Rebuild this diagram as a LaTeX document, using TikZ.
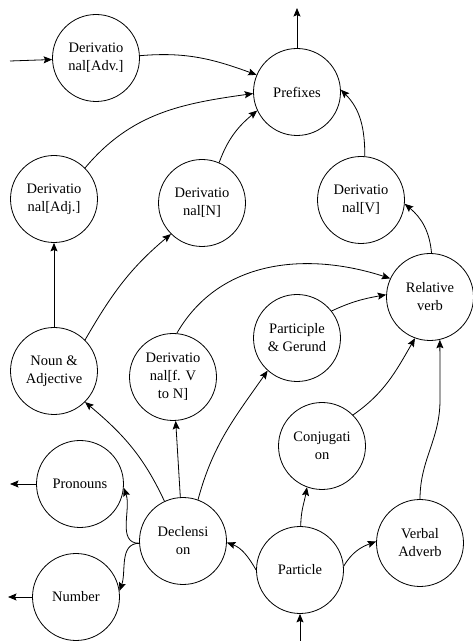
\documentclass[tikz,border=0pt]{standalone}
\usepackage{fontspec}
\setmainfont{Liberation Serif}
\usetikzlibrary{arrows.meta}
\begin{document}
\begin{tikzpicture}[x=1pt,y=1pt,
  state/.style={circle,draw,line width=0.8pt,minimum size=87pt,inner sep=0pt,
    align=center,font=\fontsize{14.5}{18}\selectfont},
  arr/.style={line width=0.8pt,-{Stealth[length=8.5pt,width=7pt,inset=1.5pt]}}]
\fill[white] (0,0) rectangle (473,641);
\useasboundingbox (0,0) rectangle (473,641);

% states
\node[state] (adv)  at (96,583)  {Derivatio\\nal[Adv.]};
\node[state] (pre)  at (297,549) {Prefixes};
\node[state] (adj)  at (54,442)  {Derivatio\\nal[Adj.]};
\node[state] (nn)   at (202,438) {Derivatio\\nal[N]};
\node[state] (vv)   at (361,441) {Derivatio\\nal[V]};
\node[state] (rv)   at (430,344) {Relative\\verb};
\node[state] (pg)   at (297,303) {Participle\\\& Gerund};
\node[state] (na)   at (54,270)  {Noun \&\\Adjective};
\node[state] (fvn)  at (173,264) {Derivatio\\nal[f. V\\to N]};
\node[state] (conj) at (322,195) {Conjugati\\on};
\node[state] (pro)  at (80,157)  {Pronouns};
\node[state] (dec)  at (183,100) {Declensi\\on};
\node[state] (num)  at (76,44)   {Number};
\node[state] (par)  at (300,71)  {Particle};
\node[state] (va)   at (420,98)  {Verbal\\Adverb};

% free ends and bends
\coordinate (inA)    at (10,580);
\coordinate (preUp)  at (297,633);
\coordinate (proOut) at (10,157);
\coordinate (numOut) at (8,44);
\coordinate (parIn)  at (300,0);
\coordinate (vaBend) at (440,241);

% connectors
\draw[arr] (inA) -- (adv);
\draw[arr] (adv.3) to[out=5,in=160] (pre.157);
\draw[arr] (adj.45) to[out=50,in=188] (pre.182);
\draw[arr] (nn.67) to[out=70,in=220] (pre.205);
\draw[arr] (vv.85) to[out=90,in=-45] (pre.3);
\draw[arr] (pre.north) -- (preUp);
\draw[arr] (rv.88) to[out=95,in=-40] (vv.-5);
\draw[arr] (na) -- (adj);
\draw[arr] (na.45) to[out=60,in=220] (nn.225);
\draw[arr] (fvn.85) to[out=60,in=162] (rv.155);
\draw[arr] (pg.38) to[out=25,in=190] (rv.177);
\draw[arr] (conj.45) to[out=35,in=240] (rv.250);
\draw[arr] (va.north) to[out=90,in=-90] (vaBend) -- (rv.-77);
\draw[arr] (dec.115) to[out=115,in=-40] (na.-45);
\draw[arr] (dec) -- (fvn);
\draw[arr] (dec.70) to[out=75,in=235] (pg.228);
\draw[arr] (dec.183) to[out=180,in=-70] (pro.-5);
\draw[arr] (dec.183) to[out=180,in=70] (num.8);
\draw[arr] (pro.west) -- (proOut);
\draw[arr] (num.west) -- (numOut);
\draw[arr] (par.180) to[out=120,in=-20] (dec.-2);
\draw[arr] (par.89) to[out=90,in=-100] (conj.250);
\draw[arr] (par.5) to[out=60,in=200] (va.178);
\draw[arr] (parIn) -- (par.south);
\end{tikzpicture}
\end{document}
